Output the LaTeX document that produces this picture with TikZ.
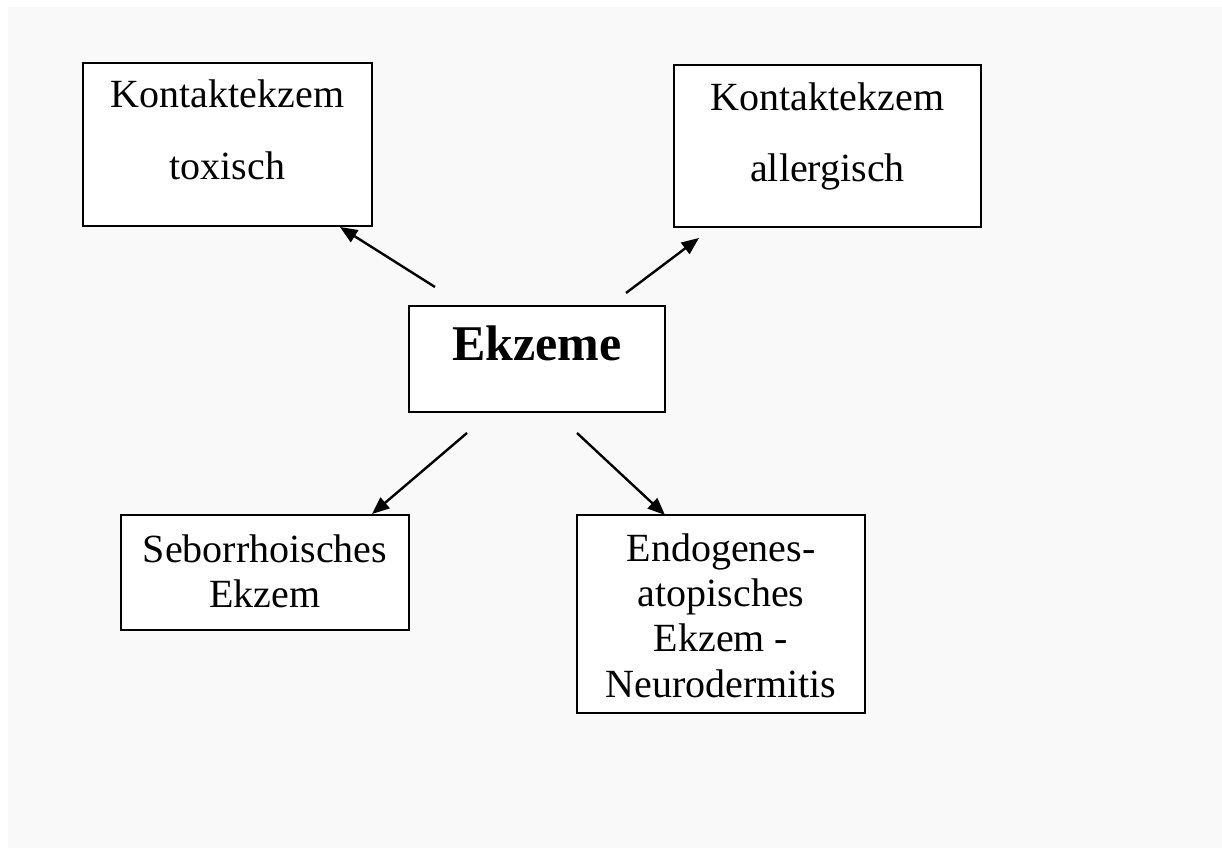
\documentclass[tikz,border=0pt]{standalone}
\usepackage{fontspec}
\setmainfont{Liberation Serif}
\usetikzlibrary{arrows.meta}
\definecolor{bggray}{HTML}{F9F9F9}
\tikzset{
  box/.style={draw=black, line width=1.5pt, fill=white},
  lbl/.style={anchor=base, inner sep=0pt, font=\fontsize{30}{36}\selectfont},
  blbl/.style={anchor=base, inner sep=0pt, font=\fontsize{37.5}{44}\selectfont\bfseries},
  arr/.style={line width=1.8pt, -{Triangle[length=13pt,width=10.5pt]}}
}
\begin{document}
\begin{tikzpicture}[x=0.75pt, y=-0.75pt]
\useasboundingbox (0,0) rectangle (1222,848);
\fill[white] (0,0) rectangle (1222,848);
\fill[bggray] (8,7) rectangle (1222,848);

% boxes
\draw[box] (83,63) rectangle (372,226);
\node[inner sep=0pt] (tox) at (227.5,144.5) {};
\draw[box] (674,65) rectangle (981,227);
\node[inner sep=0pt] (all) at (827.5,146) {};
\draw[box] (409,306) rectangle (665,412);
\node[inner sep=0pt] (ekz) at (537,359) {};
\draw[box] (121,515) rectangle (409,630);
\node[inner sep=0pt] (seb) at (265,572.5) {};
\draw[box] (577,515) rectangle (865,713);
\node[inner sep=0pt] (end) at (721,614) {};

% texts
\node[lbl] (tox1) at (227.5,108) {Kontaktekzem};
\node[lbl] (tox2) at (227.5,180) {toxisch};
\node[lbl] (all1) at (827.5,111) {Kontaktekzem};
\node[lbl] (all2) at (827.5,182) {allergisch};
\node[blbl] (ekz1) at (537,361) {Ekzeme};
\node[lbl] (seb1) at (265,563) {Seborrhoisches};
\node[lbl] (seb2) at (265,608) {Ekzem};
\node[lbl] (end1) at (721,562) {Endogenes-};
\node[lbl] (end2) at (721,607) {atopisches};
\node[lbl] (end3) at (721,652) {Ekzem -};
\node[lbl] (end4) at (721,697) {Neurodermitis};

% arrow end points
\coordinate (a1s) at (435,287);
\coordinate (a1e) at (340,227);
\coordinate (a2s) at (626,293);
\coordinate (a2e) at (699,238);
\coordinate (a3s) at (467,433);
\coordinate (a3e) at (372,514);
\coordinate (a4s) at (577,433);
\coordinate (a4e) at (665,515);

\draw[arr] (a1s) -- (a1e);
\draw[arr] (a2s) -- (a2e);
\draw[arr] (a3s) -- (a3e);
\draw[arr] (a4s) -- (a4e);
\end{tikzpicture}
\end{document}
